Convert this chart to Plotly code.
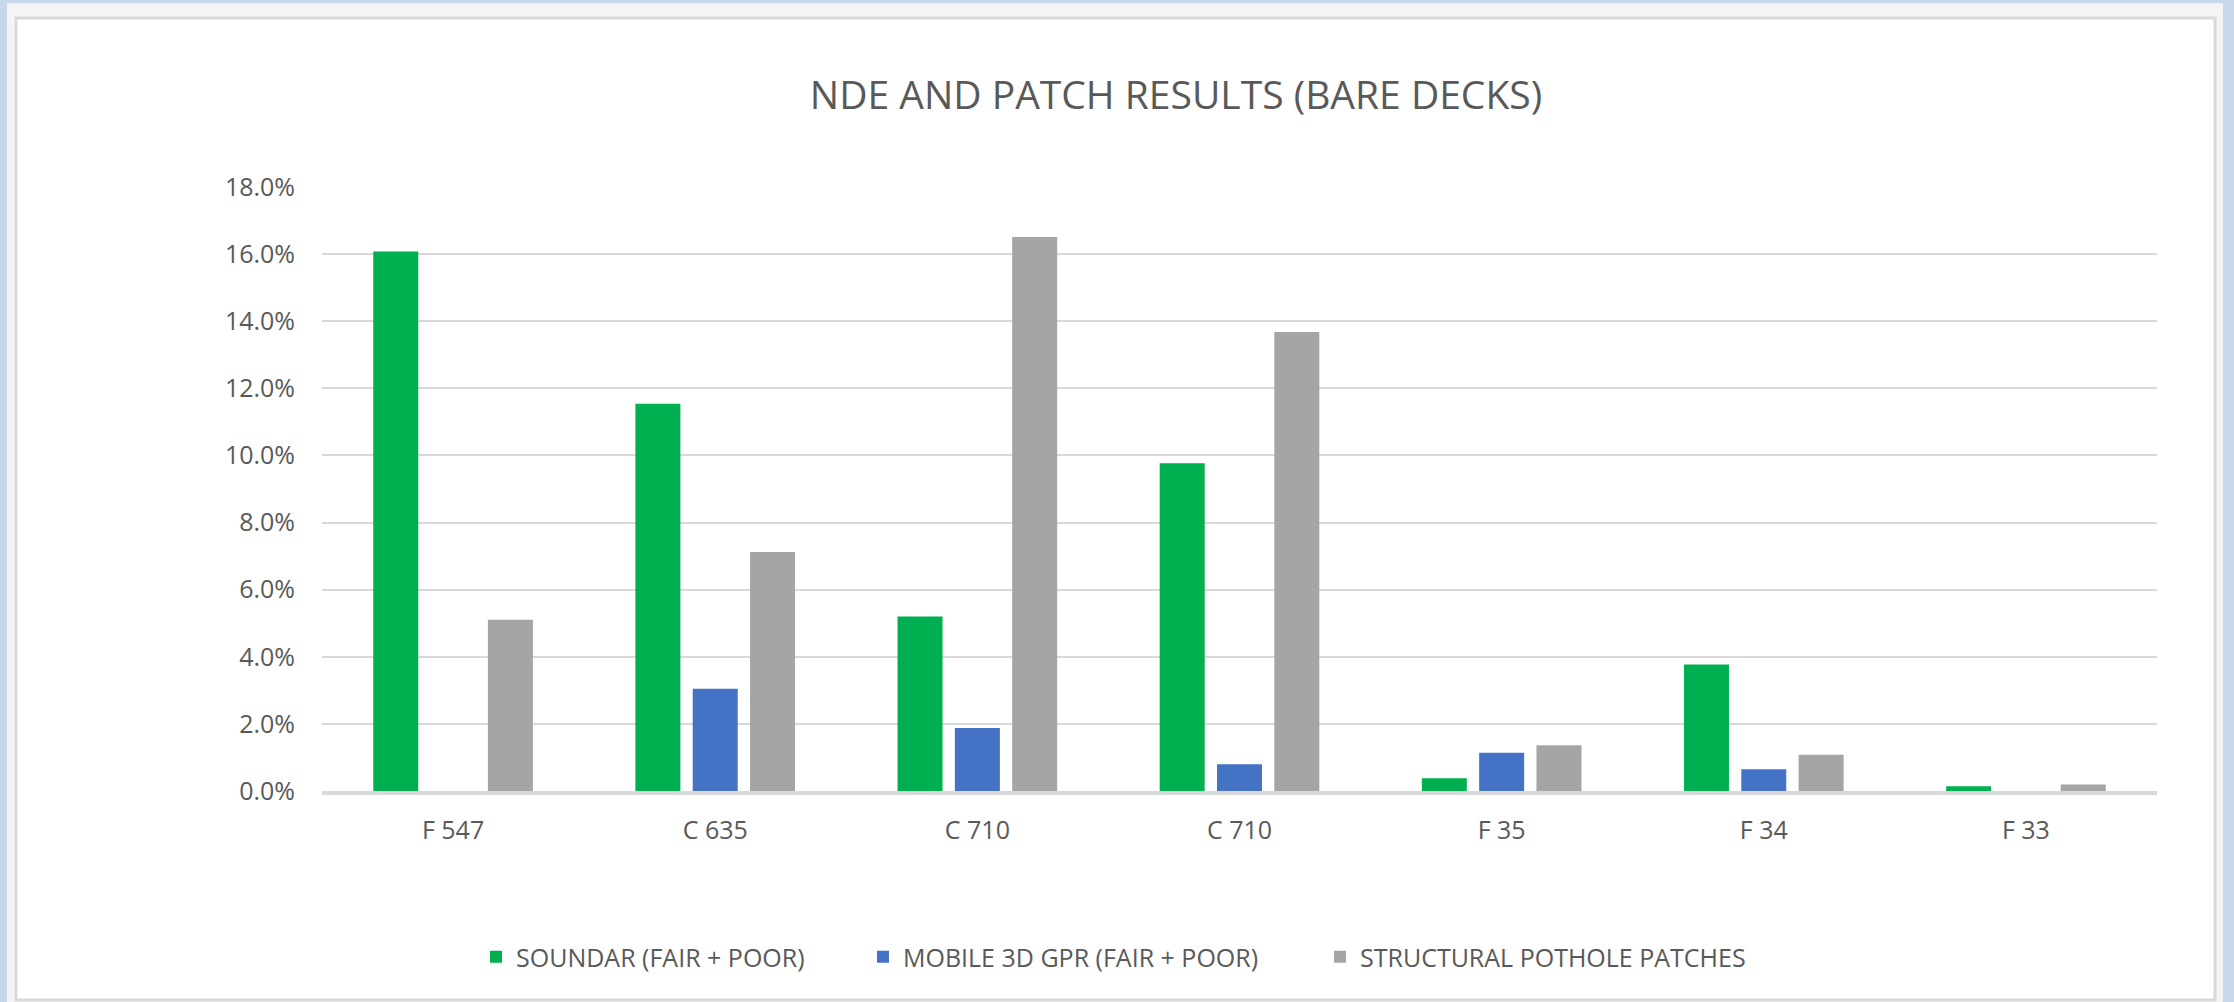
import plotly.graph_objects as go

# ---- data (percent) ----
categories = ["F 547", "C 635", "C 710", "C 710", "F 35", "F 34", "F 33"]
soundar = [16.08, 11.54, 5.20, 9.77, 0.38, 3.77, 0.14]
gpr = [0.0, 3.05, 1.88, 0.80, 1.14, 0.65, 0.0]
patches = [5.10, 7.12, 16.51, 13.68, 1.36, 1.08, 0.19]
series_names = ["SOUNDAR (FAIR + POOR)", "MOBILE 3D GPR (FAIR + POOR)", "STRUCTURAL POTHOLE PATCHES"]
colors = ["#00B050", "#4472C4", "#A5A5A5"]
y_ticks = [0, 2, 4, 6, 8, 10, 12, 14, 16, 18]
y_tick_labels = [f"{v:.1f}%" for v in y_ticks]

W, H = 2234, 1002
L, R, T, B = 322, 2157, 187, 791  # plot area in px

FONT = "Open Sans, Lato, DejaVu Sans, sans-serif"
TXT = "#595959"

x_pos = list(range(len(categories)))

fig = go.Figure()
for i, (name, vals, col) in enumerate(zip(series_names, [soundar, gpr, patches], colors)):
    fig.add_trace(go.Bar(
        x=x_pos, y=vals, name=name,
        marker=dict(color=col, line=dict(width=0)),
        legend="legend" if i == 0 else f"legend{i+1}",
    ))

def px2x(px):
    return (px - L) / (R - L)

def py2y(py):
    return (B - py) / (B - T)

legend_common = dict(
    orientation="h", xref="paper", yref="paper", xanchor="left", yanchor="middle",
    font=dict(family=FONT, size=25, color=TXT), bgcolor="rgba(0,0,0,0)",
    borderwidth=0, itemclick=False, itemdoubleclick=False,
)

fig.update_layout(
    width=W, height=H,
    margin=dict(l=L, r=W - R, t=T, b=H - B, pad=0),
    paper_bgcolor="#c9d7ec",
    plot_bgcolor="rgba(0,0,0,0)",
    barmode="group", bargap=0.344, bargroupgap=0.215,
    title=dict(text="NDE AND PATCH RESULTS (BARE DECKS)",
               font=dict(family=FONT, size=39, color=TXT),
               x=1176 / W, xref="container", xanchor="center",
               y=1 - 95 / H, yref="container", yanchor="middle"),
    xaxis=dict(
        range=[-0.5, len(categories) - 0.5],
        tickmode="array", tickvals=x_pos, ticktext=categories,
        showgrid=False, zeroline=False,
        showline=True, linecolor="#d9d9d9", linewidth=4,
        ticks="", ticklabelstandoff=14,
        tickfont=dict(family=FONT, size=25, color=TXT),
    ),
    yaxis=dict(
        range=[0, 18], tickmode="array", tickvals=y_ticks, ticktext=y_tick_labels,
        showgrid=True, gridcolor="#d9d9d9", gridwidth=2,
        zeroline=False, showline=False, ticks="",
        ticklabelstandoff=26,
        tickfont=dict(family=FONT, size=25, color=TXT),
    ),
    legend=dict(x=px2x(476), y=py2y(957), **legend_common),
    legend2=dict(x=px2x(863), y=py2y(957), **legend_common),
    legend3=dict(x=px2x(1320), y=py2y(957), **legend_common),
    shapes=[
        dict(type="rect", xref="paper", yref="paper", layer="below",
             x0=px2x(7), x1=px2x(2223), y0=py2y(1002), y1=py2y(3),
             fillcolor="#f4f4f4", line=dict(width=0)),
        dict(type="rect", xref="paper", yref="paper", layer="below",
             x0=px2x(16), x1=px2x(2215), y0=py2y(1000), y1=py2y(18),
             fillcolor="#ffffff", line=dict(color="#d9d9d9", width=3)),
    ],
    showlegend=True,
)

fig.write_html("out.html")
